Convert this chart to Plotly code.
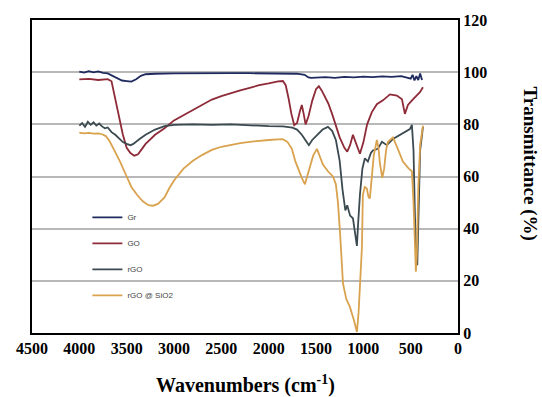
import plotly.graph_objects as go

# ---- data ----
gr_wn = [4000, 3950, 3900, 3850, 3800, 3750, 3700, 3650, 3600, 3550, 3500, 3450, 3400, 3350, 3300,
         3200, 3000, 2800, 2600, 2400, 2200, 2000, 1800, 1700, 1620, 1580, 1550, 1500, 1400, 1300,
         1200, 1100, 1000, 900, 800, 700, 600, 550, 500, 480, 460, 440, 420, 400, 380]
gr_t = [100.2, 99.8, 100.4, 99.9, 100.3, 99.7, 99.5, 98.6, 97.5, 96.8, 96.6, 96.4, 97.3, 98.6, 99.2,
        99.4, 99.5, 99.6, 99.6, 99.6, 99.6, 99.6, 99.5, 99.4, 99.0, 98.0, 97.8, 97.9, 98.1, 97.8,
        98.2, 98.0, 98.3, 98.1, 98.4, 98.2, 98.5, 98.0, 97.5, 99.0, 96.8, 98.5, 97.0, 99.5, 97.0]

go_wn = [4000, 3900, 3800, 3700, 3660, 3620, 3580, 3540, 3500, 3460, 3420, 3380, 3340, 3300, 3200,
         3100, 3000, 2900, 2800, 2700, 2600, 2500, 2400, 2300, 2200, 2100, 2000, 1900, 1850, 1820,
         1790, 1760, 1730, 1700, 1670, 1650, 1630, 1610, 1580, 1540, 1500, 1470, 1440, 1400, 1370,
         1330, 1290, 1250, 1200, 1170, 1140, 1110, 1080, 1036, 1000, 960, 910, 857, 793, 719, 646,
         592, 561, 529, 476, 402, 370]
go_t = [97.2, 97.4, 97.0, 97.3, 96.5, 90.0, 83.0, 76.0, 71.0, 69.0, 68.0, 68.5, 70.5, 72.5, 76.0,
        78.5, 81.5, 83.5, 85.5, 87.6, 89.5, 90.8, 92.0, 93.0, 94.0, 95.0, 95.7, 96.5, 96.6, 95.0,
        90.0, 84.0, 79.7, 80.5, 85.0, 87.4, 84.0, 80.0, 83.0, 89.0, 93.5, 94.6, 93.0, 90.0, 88.0,
        84.0, 79.0, 75.0, 71.0, 69.5, 72.0, 76.0, 73.0, 68.7, 73.0, 80.0, 84.7, 87.7, 89.2, 91.5, 91.0,
        89.6, 84.0, 87.4, 89.6, 92.3, 94.2]

rgo_wn = [4000, 3970, 3940, 3910, 3880, 3850, 3820, 3790, 3760, 3730, 3700, 3660, 3620, 3580, 3540,
          3500, 3460, 3430, 3400, 3360, 3300, 3250, 3200, 3100, 3000, 2800, 2600, 2400, 2200, 2000,
          1850, 1750, 1700, 1650, 1600, 1575, 1540, 1490, 1430, 1374, 1330, 1290, 1250, 1220, 1190,
          1170, 1140, 1110, 1080, 1068, 1055, 1036, 1010, 984, 952, 920, 899, 846, 804, 751, 687,
          592, 508, 487, 470, 455, 440, 430, 420, 400, 370]
rgo_t = [79.5, 80.5, 79.0, 81.0, 79.8, 80.8, 79.5, 80.3, 79.2, 78.5, 78.8, 77.0, 76.0, 74.5, 73.2,
         72.5, 72.0, 72.5, 73.5, 74.5, 76.0, 77.0, 78.0, 79.3, 79.8, 80.0, 79.8, 80.0, 79.6, 79.3,
         79.2, 78.7, 78.0, 76.0, 73.3, 72.0, 74.0, 76.0, 78.0, 79.0, 77.5, 74.0, 66.0, 55.0, 47.0,
         49.0, 45.0, 44.0, 37.0, 33.4, 42.0, 53.0, 63.0, 67.0, 65.7, 69.0, 70.0, 70.6, 73.3, 72.0, 74.4,
         76.3, 78.2, 79.8, 70.0, 45.0, 28.0, 26.0, 45.0, 70.0, 79.0]

rs_wn = [4000, 3950, 3900, 3850, 3800, 3760, 3720, 3680, 3630, 3570, 3500, 3450, 3391, 3330, 3270,
         3220, 3170, 3100, 3050, 3000, 2900, 2800, 2700, 2600, 2500, 2400, 2300, 2200, 2100, 2000,
         1900, 1850, 1800, 1755, 1720, 1691, 1650, 1617, 1580, 1530, 1490, 1460, 1427, 1374, 1321,
         1290, 1268, 1247, 1215, 1180, 1142, 1100, 1080, 1068, 1050, 1030, 1015, 1005, 985, 963, 945,
         931, 915, 890, 857, 840, 825, 800, 780, 760, 740, 710, 687, 640, 582, 520, 487, 470, 455,
         445, 435, 420, 400, 370]
rs_t = [76.8, 76.5, 76.7, 76.4, 76.5, 76.2, 75.5, 73.5, 70.0, 65.7, 60.0, 56.0, 53.0, 50.5, 49.0,
        48.8, 49.5, 52.0, 55.5, 58.5, 63.0, 66.0, 68.3, 70.2, 71.4, 72.2, 72.8, 73.3, 73.7, 74.0,
        74.2, 74.3, 73.2, 70.6, 66.0, 63.0, 59.5, 57.0, 62.0, 68.0, 70.6, 67.5, 64.6, 62.0, 60.0,
        57.0, 50.0, 39.0, 19.0, 13.0, 10.0, 5.0, 1.5, 0.4, 8.0, 20.0, 32.7, 53.0, 56.0, 55.4, 52.0,
        51.6, 58.0, 68.0, 74.0, 71.0, 65.0, 59.5, 63.0, 70.0, 73.3, 74.5, 75.0, 71.0, 65.7, 63.0, 62.0,
        50.0, 30.0, 23.5, 30.0, 55.0, 72.0, 79.5]

series_names = ["Gr", "GO", "rGO", "rGO @ SiO2"]
series_colors = ["#1f2a5e", "#8e2b38", "#3b4a50", "#d9a24e"]

x_ticks = [4500, 4000, 3500, 3000, 2500, 2000, 1500, 1000, 500, 0]
y_ticks = [0, 20, 40, 60, 80, 100, 120]

fig = go.Figure()
for i, (wn, t) in enumerate([(gr_wn, gr_t), (go_wn, go_t), (rgo_wn, rgo_t), (rs_wn, rs_t)]):
    fig.add_trace(go.Scatter(x=wn, y=t, mode="lines", name=series_names[i], legendgroup=series_names[i],
                             line=dict(color=series_colors[i], width=1.8)))

tickfont = dict(family="Liberation Serif", size=16, color="black", weight="bold")
fig.update_layout(
    width=542, height=397,
    margin=dict(l=32, r=84, t=17, b=64),
    paper_bgcolor="white", plot_bgcolor="white",
    showlegend=True,
    legend=dict(x=0.13, y=0.416, xanchor="left", yanchor="top", bgcolor="rgba(0,0,0,0)",
                font=dict(family="Arial", size=8, color="#444"), tracegroupgap=7,
                traceorder="grouped"),
    xaxis=dict(range=[4500, 0], tickvals=x_ticks, ticktext=[str(v) for v in x_ticks],
               showgrid=False, zeroline=False, showline=True, linecolor="black", linewidth=2,
               mirror=True, ticks="", tickfont=tickfont),
    yaxis=dict(range=[0, 120], tickvals=y_ticks, side="right", showgrid=True, gridcolor="#b8b8b8",
               gridwidth=2, zeroline=False, showline=True, linecolor="black", linewidth=2,
               mirror=True, ticks="", tickfont=tickfont),
    annotations=[
        dict(text="<b>Wavenumbers (cm<sup>-1</sup>)</b>", xref="paper", yref="paper", x=0.5, y=-0.165,
             xanchor="center", yanchor="middle", showarrow=False,
             font=dict(family="Liberation Serif", size=20, color="black")),
        dict(text="<b>Transmittance (%)</b>", xref="paper", yref="paper", x=1.17, y=0.54,
             xanchor="center", yanchor="middle", showarrow=False, textangle=90,
             font=dict(family="Liberation Serif", size=19, color="black")),
    ],
)

fig.write_html("out.html", config={"displayModeBar": False},
               post_script="document.body.style.margin='0px';")
